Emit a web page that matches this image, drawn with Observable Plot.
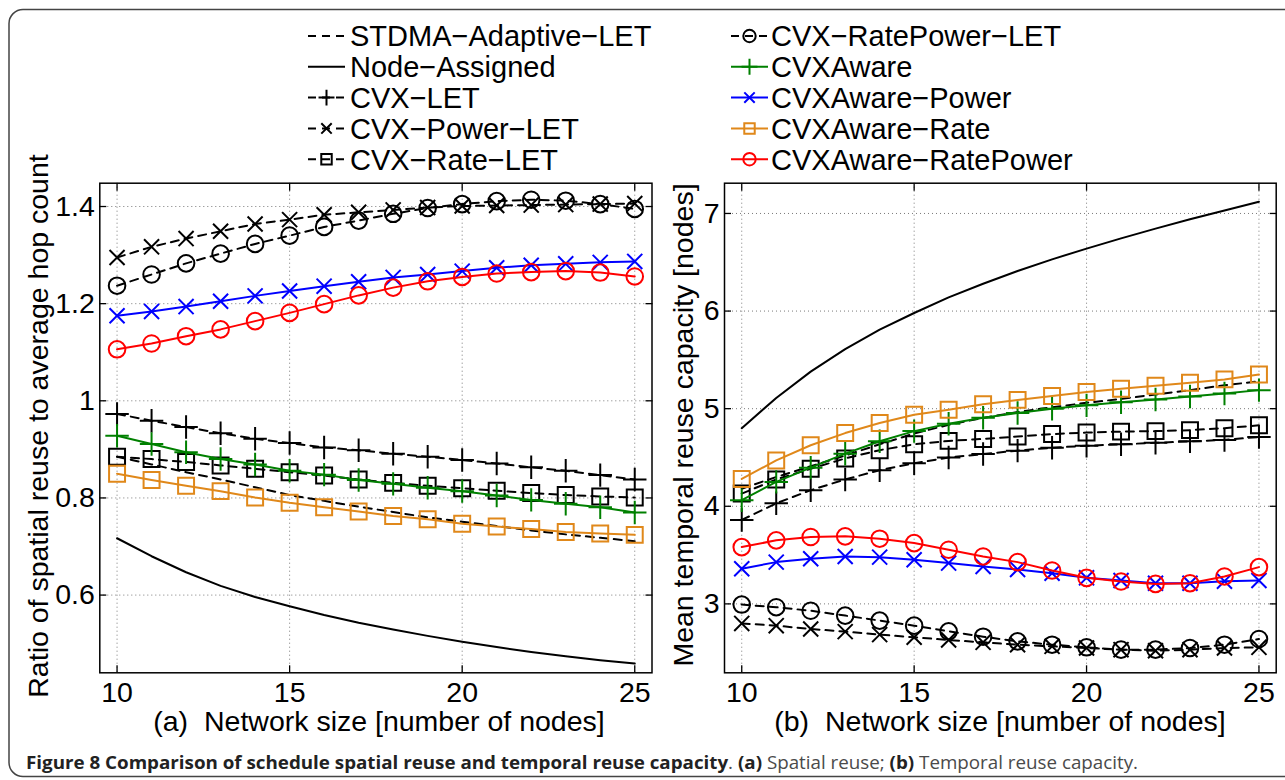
<!DOCTYPE html>
<html><head><meta charset="utf-8">
<script src="https://cdn.jsdelivr.net/npm/d3@7"></script>
<script src="https://cdn.jsdelivr.net/npm/@observablehq/plot@0.6"></script>
<style>
body{margin:0;background:#fff;}
#fig{position:relative;width:1285px;height:780px;overflow:hidden;background:#fff;font-family:"Liberation Sans",Arial,sans-serif;color:#000;}
.abs{position:absolute;left:0;top:0;}
.ylab{position:absolute;white-space:pre;font-size:28.5px;line-height:1;transform:translate(-50%,-50%) rotate(-90deg);}
.xlab{position:absolute;white-space:pre;font-size:28.5px;line-height:0.72;transform:translate(-50%,0);}
</style></head><body><div id="fig"></div>
<script>
// ---------------- data ----------------
const networkSizes = [10,11,12,13,14,15,16,17,18,19,20,21,22,23,24,25];
const xTicks = [10,15,20,25];
const yTicksA = [0.6,0.8,1,1.2,1.4];
const yTicksB = [3,4,5,6,7];

const seriesNames = ["STDMA−Adaptive−LET","Node−Assigned","CVX−LET","CVX−Power−LET","CVX−Rate−LET",
  "CVX−RatePower−LET","CVXAware","CVXAware−Power","CVXAware−Rate","CVXAware−RatePower"];

// (a) spatial reuse ratio
const stdmaA          = [0.885,0.869,0.853,0.838,0.822,0.806,0.794,0.782,0.771,0.760,0.751,0.742,0.733,0.725,0.718,0.711];
const nodeAssignedA   = [0.717,0.680,0.647,0.619,0.596,0.577,0.559,0.543,0.529,0.516,0.504,0.493,0.483,0.474,0.466,0.459];
const cvxLetA         = [0.973,0.959,0.946,0.933,0.922,0.913,0.904,0.898,0.891,0.885,0.878,0.871,0.863,0.856,0.847,0.838];
const cvxPowerLetA    = [1.295,1.317,1.334,1.349,1.364,1.373,1.383,1.388,1.393,1.398,1.401,1.402,1.403,1.404,1.405,1.406];
const cvxRateLetA     = [0.885,0.880,0.874,0.867,0.860,0.853,0.846,0.838,0.831,0.825,0.820,0.815,0.810,0.806,0.803,0.801];
const cvxRatePowerLetA= [1.237,1.260,1.283,1.303,1.323,1.340,1.358,1.371,1.385,1.397,1.405,1.411,1.414,1.412,1.405,1.395];
const awareA          = [0.928,0.911,0.894,0.880,0.869,0.856,0.848,0.837,0.829,0.821,0.814,0.805,0.796,0.788,0.781,0.770];
const awarePowerA     = [1.175,1.184,1.194,1.205,1.216,1.226,1.236,1.245,1.254,1.260,1.267,1.274,1.279,1.282,1.285,1.287];
const awareRateA      = [0.850,0.837,0.825,0.814,0.801,0.790,0.781,0.772,0.763,0.756,0.747,0.741,0.736,0.730,0.727,0.724];
const awareRatePowerA = [1.106,1.118,1.133,1.147,1.164,1.181,1.199,1.217,1.233,1.246,1.255,1.262,1.265,1.267,1.264,1.256];

// (b) temporal reuse capacity
const stdmaB          = [4.18,4.30,4.41,4.52,4.635,4.745,4.835,4.905,4.965,5.015,5.06,5.10,5.145,5.19,5.24,5.28];
const nodeAssignedB   = [4.80,5.11,5.38,5.61,5.81,5.98,6.14,6.28,6.41,6.53,6.64,6.745,6.845,6.94,7.03,7.12];
const cvxLetB         = [3.86,4.03,4.165,4.275,4.37,4.44,4.50,4.535,4.57,4.60,4.62,4.635,4.65,4.665,4.68,4.71];
const cvxPowerLetB    = [2.80,2.777,2.743,2.716,2.685,2.658,2.63,2.606,2.582,2.565,2.548,2.531,2.52,2.531,2.548,2.555];
const cvxRateLetB     = [4.13,4.275,4.385,4.49,4.575,4.635,4.67,4.69,4.715,4.74,4.755,4.765,4.77,4.78,4.80,4.83];
const cvxRatePowerLetB= [2.993,2.966,2.93,2.88,2.829,2.777,2.719,2.664,2.616,2.582,2.555,2.531,2.531,2.548,2.582,2.64];
const awareB          = [4.062,4.25,4.396,4.539,4.666,4.77,4.846,4.908,4.955,5.0,5.034,5.065,5.095,5.125,5.155,5.19];
const awarePowerB     = [3.36,3.428,3.462,3.486,3.479,3.452,3.418,3.384,3.353,3.315,3.267,3.24,3.212,3.212,3.233,3.24];
const awareRateB      = [4.28,4.47,4.625,4.75,4.853,4.938,4.99,5.045,5.09,5.13,5.17,5.205,5.235,5.265,5.30,5.35];
const awareRatePowerB = [3.582,3.651,3.685,3.692,3.668,3.623,3.555,3.486,3.428,3.342,3.267,3.229,3.205,3.212,3.281,3.377];

const panelA = [stdmaA,nodeAssignedA,cvxLetA,cvxPowerLetA,cvxRateLetA,cvxRatePowerLetA,awareA,awarePowerA,awareRateA,awareRatePowerA];
const panelB = [stdmaB,nodeAssignedB,cvxLetB,cvxPowerLetB,cvxRateLetB,cvxRatePowerLetB,awareB,awarePowerB,awareRateB,awareRatePowerB];

// ---------------- styles ----------------
const sColor = ["#000","#000","#000","#000","#000","#000","#008000","#0000ff","#e0881a","#ff0000"];
const sDash  = ["8,6",null,"8,6","8,6","8,6","8,6",null,null,null,null];
const sSym   = [null,null,"plus","times","square","circle","plus","times","square","circle"];
const symR   = {plus:7.6, times:6.9, square:9, circle:8.3};
const legR   = {plus:5.2, times:4.8, square:5.9, circle:6.2};
const d3Sym  = {plus:d3.symbolPlus, times:d3.symbolTimes, square:d3.symbolSquare, circle:d3.symbolCircle};
const fmt = d3.format("~g");

const FONT = '"Liberation Sans", Arial, sans-serif';
const fig = document.getElementById("fig");

function panel(values, yDomain, yTicks, width, marginLeft, marginRight) {
  const rows = [];
  seriesNames.forEach((name, k) => values[k].forEach((v, i) => rows.push({series: name, x: networkSizes[i], y: v})));
  const gridStyle = {stroke: "#7a7a7a", strokeOpacity: 1, strokeWidth: 1, strokeDasharray: "1,3"};
  const marks = [
    Plot.gridX(xTicks, gridStyle),
    Plot.gridY(yTicks, gridStyle)
  ];
  seriesNames.forEach((name, k) => {
    const d = rows.filter(r => r.series === name);
    marks.push(Plot.line(d, {x: "x", y: "y", stroke: sColor[k], strokeWidth: 2, strokeDasharray: sDash[k] || undefined}));
    if (sSym[k]) marks.push(Plot.dot(d, {x: "x", y: "y", symbol: sSym[k], r: symR[sSym[k]], stroke: sColor[k], strokeWidth: 2, fill: "none"}));
  });
  marks.push(
    Plot.frame({stroke: "black", strokeWidth: 1.5}),
    Plot.axisX(xTicks, {anchor: "bottom", tickSize: 0, tickPadding: 9, tickFormat: fmt, label: null}),
    Plot.axisX(xTicks, {anchor: "bottom", tickSize: -7, strokeWidth: 1.3, tickFormat: () => "", label: null}),
    Plot.axisX(xTicks, {anchor: "top", tickSize: -7, strokeWidth: 1.3, tickFormat: () => "", label: null}),
    Plot.axisY(yTicks, {anchor: "left", tickSize: 0, tickPadding: 5, tickFormat: fmt, label: null}),
    Plot.axisY(yTicks, {anchor: "left", tickSize: -7, strokeWidth: 1.3, tickFormat: () => "", label: null}),
    Plot.axisY(yTicks, {anchor: "right", tickSize: -7, strokeWidth: 1.3, tickFormat: () => "", label: null})
  );
  return Plot.plot({
    width, height: 740,
    marginLeft, marginRight, marginTop: 182.7, marginBottom: 67.7,
    x: {domain: [9.5, 25.5], label: null},
    y: {domain: yDomain, label: null},
    style: {fontFamily: FONT, fontSize: "28.5px", color: "black", background: "transparent", overflow: "visible"},
    marks
  });
}

const pa = panel(panelA, [0.44, 1.448], yTicksA, 660, 99.3, 8.5);
pa.style.position = "absolute"; pa.style.left = "0px"; pa.style.top = "0px";
fig.appendChild(pa);
const pb = panel(panelB, [2.294, 7.31], yTicksB, 645, 84, 9.3);
pb.style.position = "absolute"; pb.style.left = "640px"; pb.style.top = "0px";
fig.appendChild(pb);

// axis titles
function addLabel(cls, text, left, top) {
  const d = document.createElement("div");
  d.className = cls; d.textContent = text;
  d.style.left = left + "px"; d.style.top = top + "px";
  fig.appendChild(d);
}
addLabel("ylab", "Ratio of spatial reuse to average hop count", 38, 426);
addLabel("ylab", "Mean temporal reuse capacity [nodes]", 683, 425);
addLabel("xlab", "(a)  Network size [number of nodes]", 379, 711);
addLabel("xlab", "(b)  Network size [number of nodes]", 1000, 711);

// legend
const leg = d3.select(fig).append("svg").attr("class", "abs").attr("width", 1285).attr("height", 200)
  .style("pointer-events", "none");
seriesNames.forEach((name, k) => {
  const col = k < 5 ? 0 : 1, row = k % 5;
  const x0 = col ? 731 : 308, x1 = col ? 768 : 345, tx = col ? 771 : 350;
  const cy = 36 + row * 30.8;
  leg.append("line").attr("x1", x0).attr("x2", x1).attr("y1", cy).attr("y2", cy)
    .attr("stroke", sColor[k]).attr("stroke-width", 2).attr("stroke-dasharray", sDash[k] || null);
  if (sSym[k]) {
    const r = legR[sSym[k]];
    leg.append("path").attr("d", d3.symbol(d3Sym[sSym[k]], Math.PI * r * r)())
      .attr("transform", `translate(${(x0 + x1) / 2},${cy})`)
      .attr("fill", "none").attr("stroke", sColor[k]).attr("stroke-width", 2);
  }
  leg.append("text").attr("x", tx).attr("y", cy + 10.4).attr("font-family", FONT).attr("font-size", 29)
    .attr("fill", "#000").text(name);
});

// frame + caption
const deco = d3.select(fig).append("svg").attr("class", "abs").attr("width", 1285).attr("height", 780)
  .style("pointer-events", "none");
deco.append("rect").attr("x", 9).attr("y", 9.5).attr("width", 1300).attr("height", 767).attr("rx", 14)
  .attr("fill", "none").attr("stroke", "#444").attr("stroke-width", 1.5);
const cap = deco.append("text").attr("x", 26).attr("y", 769).attr("font-family", '"Open Sans", "Noto Sans", sans-serif')
  .attr("font-size", 18).attr("textLength", 1112).attr("lengthAdjust", "spacingAndGlyphs").attr("fill", "#4a4a4a");
cap.append("tspan").attr("font-weight", "bold").attr("fill", "#222").text("Figure 8 Comparison of schedule spatial reuse and temporal reuse capacity");
cap.append("tspan").text(". ");
cap.append("tspan").attr("font-weight", "bold").attr("fill", "#222").text("(a)");
cap.append("tspan").text(" Spatial reuse; ");
cap.append("tspan").attr("font-weight", "bold").attr("fill", "#222").text("(b)");
cap.append("tspan").text(" Temporal reuse capacity.");
</script>
</body></html>
